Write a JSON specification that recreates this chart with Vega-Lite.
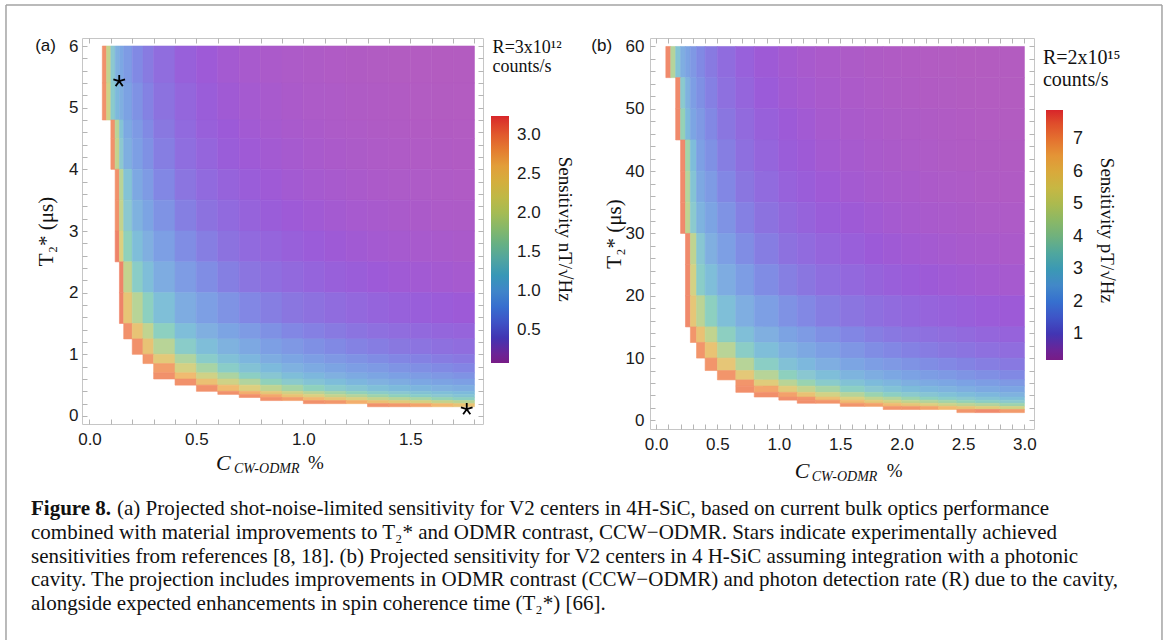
{
"$schema": "https://vega.github.io/schema/vega-lite/v6.json",
"background": "white",
"padding": {"left": 4, "top": 3, "right": 3, "bottom": 0},
"config": {
 "view": {"stroke": "#c6c6c6", "strokeWidth": 1},
 "axis": {"domain": false, "grid": false, "tickColor": "#b5b5b5", "tickWidth": 1, "labelFont": "Liberation Sans", "labelFontSize": 17, "labelColor": "#1a1a1a", "titleFont": "Liberation Serif", "titleFontWeight": "normal", "titleColor": "#111", "titleFontSize": 21},
 "legend": {"gradientStrokeWidth": 0},
 "text": {"font": "Liberation Serif", "color": "#111"}
},
"datasets": {
 "ca": [{"col":"a","x":0.06,"x2":0.08},{"col":"b","x":0.08,"x2":0.1},{"col":"c","x":0.1,"x2":0.12},{"col":"d","x":0.12,"x2":0.14},{"col":"e","x":0.14,"x2":0.16},{"col":"f","x":0.16,"x2":0.2},{"col":"g","x":0.2,"x2":0.25},{"col":"h","x":0.25,"x2":0.3},{"col":"i","x":0.3,"x2":0.4},{"col":"j","x":0.4,"x2":0.5},{"col":"k","x":0.5,"x2":0.6},{"col":"l","x":0.6,"x2":0.7},{"col":"m","x":0.7,"x2":0.8},{"col":"n","x":0.8,"x2":0.9},{"col":"o","x":0.9,"x2":1},{"col":"p","x":1,"x2":1.1},{"col":"q","x":1.1,"x2":1.2},{"col":"r","x":1.2,"x2":1.3},{"col":"s","x":1.3,"x2":1.4},{"col":"t","x":1.4,"x2":1.5},{"col":"u","x":1.5,"x2":1.6},{"col":"v","x":1.6,"x2":1.7},{"col":"w","x":1.7,"x2":1.8}],
 "cb": [{"col":"a","x":0.08,"x2":0.12},{"col":"b","x":0.12,"x2":0.16},{"col":"c","x":0.16,"x2":0.2},{"col":"d","x":0.2,"x2":0.24},{"col":"e","x":0.24,"x2":0.28},{"col":"f","x":0.28,"x2":0.33},{"col":"g","x":0.33,"x2":0.4},{"col":"h","x":0.4,"x2":0.5},{"col":"i","x":0.5,"x2":0.65},{"col":"j","x":0.65,"x2":0.8},{"col":"k","x":0.8,"x2":1},{"col":"l","x":1,"x2":1.15},{"col":"m","x":1.15,"x2":1.3},{"col":"n","x":1.3,"x2":1.5},{"col":"o","x":1.5,"x2":1.7},{"col":"p","x":1.7,"x2":1.85},{"col":"q","x":1.85,"x2":2},{"col":"r","x":2,"x2":2.15},{"col":"s","x":2.15,"x2":2.3},{"col":"t","x":2.3,"x2":2.45},{"col":"u","x":2.45,"x2":2.6},{"col":"v","x":2.6,"x2":2.8},{"col":"w","x":2.8,"x2":3}],
 "ha": [
  {"y":5.4,"y2":6,"a":2.9,"b":2.0,"c":1.4,"d":1.01,"e":0.88,"f":0.73,"g":0.58,"h":0.48,"i":0.38,"j":0.29,"k":0.24,"l":0.2,"m":0.175,"n":0.155,"o":0.139,"p":0.125,"q":0.114,"r":0.105,"s":0.097,"t":0.091,"u":0.085,"v":0.08,"w":0.075},
  {"y":4.8,"y2":5.4,"a":2.9,"b":2.1,"c":1.45,"d":1.13,"e":0.98,"f":0.82,"g":0.65,"h":0.53,"i":0.42,"j":0.33,"k":0.27,"l":0.226,"m":0.196,"n":0.173,"o":0.155,"p":0.14,"q":0.128,"r":0.118,"s":0.109,"t":0.101,"u":0.095,"v":0.089,"w":0.084},
  {"y":4.5,"y2":4.8,"c":2.9,"d":1.9,"e":1.3,"f":0.9,"g":0.72,"h":0.59,"i":0.46,"j":0.36,"k":0.29,"l":0.25,"m":0.215,"n":0.19,"o":0.17,"p":0.154,"q":0.14,"r":0.129,"s":0.119,"t":0.111,"u":0.104,"v":0.098,"w":0.092},
  {"y":4,"y2":4.5,"c":2.9,"d":2.0,"e":1.4,"f":0.98,"g":0.78,"h":0.64,"i":0.5,"j":0.39,"k":0.32,"l":0.27,"m":0.235,"n":0.21,"o":0.186,"p":0.168,"q":0.153,"r":0.141,"s":0.131,"t":0.122,"u":0.114,"v":0.107,"w":0.101},
  {"y":3.5,"y2":4,"d":2.9,"e":1.9,"f":1.3,"g":0.89,"h":0.73,"i":0.57,"j":0.44,"k":0.36,"l":0.31,"m":0.27,"n":0.235,"o":0.21,"p":0.19,"q":0.174,"r":0.16,"s":0.148,"t":0.138,"u":0.129,"v":0.121,"w":0.114},
  {"y":3,"y2":3.5,"d":2.9,"e":2.0,"f":1.4,"g":1.03,"h":0.84,"i":0.66,"j":0.51,"k":0.42,"l":0.36,"m":0.31,"n":0.27,"o":0.24,"p":0.22,"q":0.201,"r":0.185,"s":0.171,"t":0.159,"u":0.149,"v":0.14,"w":0.132},
  {"y":2.5,"y2":3,"d":3.0,"e":2.2,"f":1.6,"g":1.21,"h":0.99,"i":0.78,"j":0.61,"k":0.5,"l":0.42,"m":0.36,"n":0.32,"o":0.29,"p":0.26,"q":0.237,"r":0.218,"s":0.202,"t":0.188,"u":0.176,"v":0.165,"w":0.156},
  {"y":2,"y2":2.5,"e":3.0,"f":2.0,"g":1.5,"h":1.21,"i":0.95,"j":0.74,"k":0.61,"l":0.51,"m":0.44,"n":0.39,"o":0.35,"p":0.317,"q":0.29,"r":0.267,"s":0.247,"t":0.23,"u":0.215,"v":0.202,"w":0.19},
  {"y":1.5,"y2":2,"e":3.0,"f":2.4,"g":1.9,"h":1.56,"i":1.22,"j":0.95,"k":0.78,"l":0.66,"m":0.57,"n":0.5,"o":0.45,"p":0.408,"q":0.373,"r":0.343,"s":0.317,"t":0.296,"u":0.277,"v":0.26,"w":0.245},
  {"y":1.25,"y2":1.5,"f":2.9,"g":2.42,"h":1.98,"i":1.56,"j":1.21,"k":0.99,"l":0.84,"m":0.73,"n":0.64,"o":0.57,"p":0.52,"q":0.474,"r":0.436,"s":0.404,"t":0.376,"u":0.352,"v":0.331,"w":0.312},
  {"y":1,"y2":1.25,"g":2.9,"h":2.42,"i":1.9,"j":1.48,"k":1.21,"l":1.03,"m":0.89,"n":0.78,"o":0.7,"p":0.635,"q":0.58,"r":0.533,"s":0.494,"t":0.46,"u":0.43,"v":0.404,"w":0.381},
  {"y":0.85,"y2":1,"h":2.85,"i":2.32,"j":1.8,"k":1.47,"l":1.25,"m":1.08,"n":0.95,"o":0.85,"p":0.772,"q":0.705,"r":0.649,"s":0.601,"t":0.559,"u":0.523,"v":0.491,"w":0.463},
  {"y":0.7,"y2":0.85,"i":2.8,"j":2.15,"k":1.76,"l":1.49,"m":1.29,"n":1.14,"o":1.02,"p":0.922,"q":0.841,"r":0.774,"s":0.717,"t":0.667,"u":0.624,"v":0.586,"w":0.553},
  {"y":0.6,"y2":0.7,"i":2.9,"j":2.56,"k":2.1,"l":1.78,"m":1.54,"n":1.36,"o":1.21,"p":1.099,"q":1.003,"r":0.923,"s":0.855,"t":0.796,"u":0.744,"v":0.699,"w":0.659},
  {"y":0.5,"y2":0.6,"j":2.9,"k":2.48,"l":2.1,"m":1.82,"n":1.6,"o":1.44,"p":1.299,"q":1.186,"r":1.091,"s":1.01,"t":0.94,"u":0.88,"v":0.826,"w":0.779},
  {"y":0.4,"y2":0.5,"k":2.9,"l":2.56,"m":2.22,"n":1.96,"o":1.75,"p":1.587,"q":1.449,"r":1.333,"s":1.235,"t":1.149,"u":1.075,"v":1.01,"w":0.952},
  {"y":0.35,"y2":0.4,"l":2.9,"m":2.67,"n":2.35,"o":2.11,"p":1.905,"q":1.739,"r":1.6,"s":1.481,"t":1.379,"u":1.29,"v":1.212,"w":1.143},
  {"y":0.3,"y2":0.35,"m":2.9,"n":2.72,"o":2.43,"p":2.198,"q":2.007,"r":1.846,"s":1.709,"t":1.592,"u":1.489,"v":1.399,"w":1.319},
  {"y":0.25,"y2":0.3,"n":2.9,"o":2.8,"p":2.597,"q":2.372,"r":2.182,"s":2.02,"t":1.881,"u":1.76,"v":1.653,"w":1.558},
  {"y":0.2,"y2":0.25,"p":2.9,"q":2.85,"r":2.667,"s":2.469,"t":2.299,"u":2.151,"v":2.02,"w":1.905},
  {"y":0.15,"y2":0.2,"s":2.9,"t":2.85,"u":2.76,"v":2.6,"w":2.45}
 ],
 "hb": [
  {"y":55,"y2":60,"a":7.2,"b":4.5,"c":3.2,"d":2.37,"e":2.01,"f":1.71,"g":1.43,"h":1.16,"i":0.91,"j":0.72,"k":0.58,"l":0.49,"m":0.43,"n":0.37,"o":0.33,"p":0.294,"q":0.271,"r":0.251,"s":0.234,"t":0.22,"u":0.207,"v":0.193,"w":0.18},
  {"y":50,"y2":55,"c":7.2,"d":3.5,"e":2.5,"f":1.87,"g":1.56,"h":1.27,"i":0.99,"j":0.79,"k":0.63,"l":0.53,"m":0.47,"n":0.41,"o":0.36,"p":0.322,"q":0.297,"r":0.275,"s":0.257,"t":0.241,"u":0.226,"v":0.212,"w":0.197},
  {"y":45,"y2":50,"c":7.2,"d":4.0,"e":2.8,"f":2.07,"g":1.73,"h":1.4,"i":1.1,"j":0.87,"k":0.7,"l":0.59,"m":0.52,"n":0.45,"o":0.39,"p":0.356,"q":0.328,"r":0.304,"s":0.284,"t":0.266,"u":0.25,"v":0.234,"w":0.218},
  {"y":40,"y2":45,"d":7.2,"e":4.2,"f":2.9,"g":1.93,"h":1.57,"i":1.23,"j":0.97,"k":0.78,"l":0.66,"m":0.58,"n":0.5,"o":0.44,"p":0.398,"q":0.367,"r":0.34,"s":0.317,"t":0.297,"u":0.28,"v":0.261,"w":0.243},
  {"y":35,"y2":40,"d":7.2,"e":4.5,"f":3.2,"g":2.19,"h":1.78,"i":1.39,"j":1.1,"k":0.89,"l":0.74,"m":0.65,"n":0.57,"o":0.5,"p":0.451,"q":0.416,"r":0.386,"s":0.36,"t":0.337,"u":0.317,"v":0.296,"w":0.276},
  {"y":30,"y2":35,"d":7.2,"e":4.8,"f":3.5,"g":2.53,"h":2.05,"i":1.61,"j":1.27,"k":1.03,"l":0.86,"m":0.75,"n":0.66,"o":0.58,"p":0.52,"q":0.48,"r":0.445,"s":0.415,"t":0.389,"u":0.366,"v":0.342,"w":0.318},
  {"y":25,"y2":30,"e":7.2,"f":4.8,"g":3.3,"h":2.42,"i":1.9,"j":1.5,"k":1.21,"l":1.01,"m":0.89,"n":0.78,"o":0.68,"p":0.615,"q":0.567,"r":0.526,"s":0.49,"t":0.459,"u":0.432,"v":0.404,"w":0.376},
  {"y":20,"y2":25,"e":7.2,"f":5.2,"g":3.65,"h":2.96,"i":2.32,"j":1.84,"k":1.48,"l":1.24,"m":1.09,"n":0.95,"o":0.83,"p":0.751,"q":0.693,"r":0.643,"s":0.599,"t":0.561,"u":0.528,"v":0.494,"w":0.46},
  {"y":15,"y2":20,"e":7.2,"f":5.8,"g":4.7,"h":3.81,"i":2.98,"j":2.36,"k":1.9,"l":1.59,"m":1.4,"n":1.22,"o":1.07,"p":0.966,"q":0.891,"r":0.826,"s":0.77,"t":0.722,"u":0.679,"v":0.635,"w":0.591},
  {"y":12.5,"y2":15,"f":7.0,"g":5.98,"h":4.85,"i":3.79,"j":3.01,"k":2.42,"l":2.03,"m":1.78,"n":1.56,"o":1.36,"p":1.229,"q":1.133,"r":1.051,"s":0.981,"t":0.919,"u":0.864,"v":0.808,"w":0.752},
  {"y":10,"y2":12.5,"g":7.0,"h":5.93,"i":4.64,"j":3.68,"k":2.96,"l":2.48,"m":2.18,"n":1.9,"o":1.67,"p":1.502,"q":1.385,"r":1.285,"s":1.199,"t":1.123,"u":1.056,"v":0.988,"w":0.92},
  {"y":8,"y2":10,"h":7.0,"i":5.8,"j":4.6,"k":3.7,"l":3.1,"m":2.72,"n":2.38,"o":2.08,"p":1.878,"q":1.732,"r":1.606,"s":1.498,"t":1.404,"u":1.32,"v":1.235,"w":1.149},
  {"y":6.5,"y2":8,"i":7.0,"j":5.71,"k":4.6,"l":3.85,"m":3.38,"n":2.96,"o":2.59,"p":2.331,"q":2.15,"r":1.994,"s":1.86,"t":1.742,"u":1.639,"v":1.533,"w":1.427},
  {"y":5.5,"y2":6.5,"j":7.0,"k":5.56,"l":4.65,"m":4.08,"n":3.57,"o":3.13,"p":2.817,"q":2.597,"r":2.41,"s":2.247,"t":2.105,"u":1.98,"v":1.852,"w":1.724},
  {"y":4.5,"y2":5.5,"j":7.1,"k":6.67,"l":5.58,"m":4.9,"n":4.29,"o":3.75,"p":3.38,"q":3.117,"r":2.892,"s":2.697,"t":2.526,"u":2.376,"v":2.222,"w":2.069},
  {"y":3.75,"y2":4.5,"k":7.1,"l":6.77,"m":5.94,"n":5.19,"o":4.55,"p":4.097,"q":3.778,"r":3.505,"s":3.269,"t":3.062,"u":2.88,"v":2.694,"w":2.508},
  {"y":3.25,"y2":3.75,"l":7.1,"m":7.0,"n":6.12,"o":5.36,"p":4.829,"q":4.453,"r":4.131,"s":3.852,"t":3.609,"u":3.395,"v":3.175,"w":2.956},
  {"y":2.75,"y2":3.25,"m":7.1,"n":7.0,"o":6.25,"p":5.634,"q":5.195,"r":4.819,"s":4.494,"t":4.211,"u":3.96,"v":3.704,"w":3.448},
  {"y":2.25,"y2":2.75,"o":7.0,"p":6.761,"q":6.234,"r":5.783,"s":5.393,"t":5.053,"u":4.752,"v":4.444,"w":4.138},
  {"y":1.75,"y2":2.25,"q":7.0,"r":7.0,"s":6.74,"t":6.32,"u":5.94,"v":5.56,"w":5.17},
  {"y":1.25,"y2":1.75,"u":7.0,"v":7.2,"w":6.9}
 ]
},
"hconcat": [
 {
  "width": 401, "height": 386,
  "resolve": {"axis": {"x": "independent", "y": "independent"}},
  "layer": [
   {
    "data": {"name": "ha"},
    "transform": [
     {"fold": ["a","b","c","d","e","f","g","h","i","j","k","l","m","n","o","p","q","r","s","t","u","v","w"], "as": ["col","val"]},
     {"filter": "isValid(datum.val)"},
     {"lookup": "col", "from": {"data": {"name": "ca"}, "key": "col", "fields": ["x","x2"]}}
    ],
    "mark": {"type": "rect", "strokeWidth": 0.6},
    "encoding": {
     "x": {"field": "x", "type": "quantitative", "scale": {"domain": [-0.035, 1.84], "nice": false, "zero": false},
      "axis": {"orient": "bottom", "values": [0,0.1,0.2,0.3,0.4,0.5,0.6,0.7,0.8,0.9,1,1.1,1.2,1.3,1.4,1.5,1.6,1.7,1.8], "labelExpr": "indexof([0,0.5,1,1.5], datum.value) >= 0 ? format(datum.value, '.1f') : ''", "tickSize": -5, "labelPadding": 12, "title": null, "labelOverlap": false, "labelFlush": false}},
     "x2": {"field": "x2"},
     "y": {"field": "y", "type": "quantitative", "scale": {"domain": [-0.13, 6.13], "nice": false, "zero": false},
      "axis": {"orient": "left", "values": [0,0.2,0.4,0.6,0.8,1,1.2,1.4,1.6,1.8,2,2.2,2.4,2.6,2.8,3,3.2,3.4,3.6,3.8,4,4.2,4.4,4.6,4.8,5,5.2,5.4,5.6,5.8,6], "labelExpr": "indexof([0,1,2,3,4,5,6], datum.value) >= 0 ? format(datum.value, 'd') : ''", "tickSize": -5, "labelPadding": 9, "title": "T₂* (μs)", "titlePadding": 12, "labelOverlap": false, "labelFlush": false}},
     "y2": {"field": "y2"},
     "fill": {"field": "val", "type": "quantitative", "legend": null, "scale": {"domain": [0.08,0.25,0.45,0.7,1.0,1.4,1.8,2.2,2.6,2.95,3.24], "range": ["#b35cc0","#9c5ad8","#8a76e0","#7f98e4","#80b0e0","#8cc8d0","#b0d4a0","#dcd080","#f2b870","#f08a6c","#e6605e"], "clamp": true}},
     "stroke": {"field": "val", "type": "quantitative", "legend": null, "scale": {"domain": [0.08,0.25,0.45,0.7,1.0,1.4,1.8,2.2,2.6,2.95,3.24], "range": ["#b35cc0","#9c5ad8","#8a76e0","#7f98e4","#80b0e0","#8cc8d0","#b0d4a0","#dcd080","#f2b870","#f08a6c","#e6605e"], "clamp": true}}
    }
   },
   {
    "data": {"values": [{"v": 1}]},
    "mark": {"type": "point", "size": 0, "opacity": 1},
    "encoding": {
     "color": {"field": "v", "type": "quantitative",
      "scale": {"domain": [0.08,0.396,0.712,1.028,1.344,1.66,1.976,2.292,2.608,2.924,3.24], "range": ["#781c86","#4233b2","#3e62cf","#4388c8","#52a0a6","#74b27a","#a2bb55","#ccb642","#e39d3a","#e4672f","#d8252a"]},
      "legend": {"orient": "none", "legendX": 409, "legendY": 78, "direction": "vertical", "title": null, "gradientLength": 247, "gradientThickness": 18, "values": [0.5,1,1.5,2,2.5,3], "format": ".1f", "labelFont": "Liberation Sans", "labelFontSize": 17, "labelColor": "#1a1a1a", "labelOffset": 8, "labelOverlap": false, "padding": 0}}
    }
   },
   {
    "data": {"values": [{"c": 0.139, "t": 5.43}, {"c": 1.764, "t": 0.11}]},
    "mark": {"type": "point", "shape": "M0,0L0,-1M0,0L0.951,-0.309M0,0L0.588,0.809M0,0L-0.588,0.809M0,0L-0.951,-0.309", "size": 150, "filled": false, "stroke": "#000", "strokeWidth": 1.8, "opacity": 1},
    "encoding": {
     "x": {"field": "c", "type": "quantitative", "axis": null},
     "y": {"field": "t", "type": "quantitative", "axis": null}
    }
   },
   {
    "data": {"values": [{}]},
    "mark": {"type": "text", "text": ["R=3x10¹²", "counts/s"], "align": "left", "baseline": "top", "fontSize": 18, "lineHeight": 19},
    "encoding": {
     "x": {"datum": 1.885, "type": "quantitative", "axis": {"orient": "top", "values": [0,0.1,0.2,0.3,0.4,0.5,0.6,0.7,0.8,0.9,1,1.1,1.2,1.3,1.4,1.5,1.6,1.7,1.8], "labels": false, "tickSize": -5, "title": null}},
     "y": {"datum": 6.11, "type": "quantitative", "axis": {"orient": "right", "values": [0,0.2,0.4,0.6,0.8,1,1.2,1.4,1.6,1.8,2,2.2,2.4,2.6,2.8,3,3.2,3.4,3.6,3.8,4,4.2,4.4,4.6,4.8,5,5.2,5.4,5.6,5.8,6], "labels": false, "tickSize": -5, "title": null}}
    }
   },
   {
    "data": {"values": [{}]},
    "mark": {"type": "text", "text": "Sensitivity nT/√Hz", "angle": 90, "align": "center", "baseline": "middle", "fontSize": 19},
    "encoding": {"x": {"datum": 2.222, "type": "quantitative", "axis": null}, "y": {"datum": 3.03, "type": "quantitative", "axis": null}}
   },
   {
    "data": {"values": [{}]},
    "mark": {"type": "text", "text": "(a)", "align": "right", "baseline": "middle", "font": "Liberation Sans", "fontSize": 17},
    "encoding": {"x": {"datum": -0.157, "type": "quantitative", "axis": null}, "y": {"datum": 6, "type": "quantitative", "axis": null}}
   },
   {
    "data": {"values": [{}]},
    "mark": {"type": "text", "text": "C", "align": "left", "baseline": "middle", "fontSize": 22, "fontStyle": "italic"},
    "encoding": {"x": {"datum": 0.591, "type": "quantitative", "axis": null}, "y": {"datum": -0.76, "type": "quantitative", "axis": null}}
   },
   {
    "data": {"values": [{}]},
    "mark": {"type": "text", "text": "CW-ODMR", "align": "left", "baseline": "middle", "fontSize": 14, "fontStyle": "italic", "dx": 18, "dy": 6},
    "encoding": {"x": {"datum": 0.591, "type": "quantitative", "axis": null}, "y": {"datum": -0.76, "type": "quantitative", "axis": null}}
   },
   {
    "data": {"values": [{}]},
    "mark": {"type": "text", "text": "%", "align": "left", "baseline": "middle", "fontSize": 19, "dx": 92},
    "encoding": {"x": {"datum": 0.591, "type": "quantitative", "axis": null}, "y": {"datum": -0.76, "type": "quantitative", "axis": null}}
   },
   {
    "data": {"values": [{}]},
    "mark": {"type": "rule", "color": "#a3a3a3", "strokeWidth": 1.5},
    "encoding": {"x": {"datum": -0.3904, "type": "quantitative", "axis": null}, "y": {"datum": 6.665, "type": "quantitative", "axis": null}, "y2": {"datum": -3.633}}
   },
   {
    "data": {"values": [{}]},
    "mark": {"type": "rule", "color": "#a3a3a3", "strokeWidth": 1.5},
    "encoding": {"x": {"datum": 5.0148, "type": "quantitative", "axis": null}, "y": {"datum": 6.665, "type": "quantitative", "axis": null}, "y2": {"datum": -3.633}}
   },
   {
    "data": {"values": [{}]},
    "mark": {"type": "rule", "color": "#a3a3a3", "strokeWidth": 1.5},
    "encoding": {"x": {"datum": -0.3904, "type": "quantitative", "axis": null}, "x2": {"datum": 5.0148}, "y": {"datum": 6.665, "type": "quantitative", "axis": null}}
   },
   {
    "data": {"values": [{"line": 0, "text": "Figure 8."}]},
    "mark": {"type": "text", "align": "left", "baseline": "middle", "fontSize": 21, "fontWeight": "bold"},
    "encoding": {"x": {"datum": -0.2735, "type": "quantitative", "axis": null}, "y": {"datum": -1.509, "type": "quantitative", "axis": null}, "text": {"field": "text"}}
   },
   {
    "data": {"values": [{"line": 0, "text": "(a) Projected shot-noise-limited sensitivity for V2 centers in 4H-SiC, based on current bulk optics performance"}]},
    "mark": {"type": "text", "align": "left", "baseline": "middle", "fontSize": 21, "dx": 86},
    "encoding": {"x": {"datum": -0.2735, "type": "quantitative", "axis": null}, "y": {"datum": -1.509, "type": "quantitative", "axis": null}, "text": {"field": "text"}}
   },
   {
    "data": {"values": [
     {"line": 1, "text": "combined with material improvements to T₂* and ODMR contrast, CCW−ODMR. Stars indicate experimentally achieved"},
     {"line": 2, "text": "sensitivities from references [8, 18]. (b) Projected sensitivity for V2 centers in 4 H-SiC assuming integration with a photonic"},
     {"line": 3, "text": "cavity. The projection includes improvements in ODMR contrast (CCW−ODMR) and photon detection rate (R) due to the cavity,"},
     {"line": 4, "text": "alongside expected enhancements in spin coherence time (T₂*) [66]."}
    ]},
    "mark": {"type": "text", "align": "left", "baseline": "middle", "fontSize": 21},
    "encoding": {
     "x": {"datum": -0.2735, "type": "quantitative", "axis": null},
     "y": {"datum": -1.509, "type": "quantitative", "axis": null},
     "yOffset": {"field": "line", "type": "quantitative", "scale": {"domain": [0, 4], "range": [0, 95]}},
     "text": {"field": "text"}
    }
   }
  ]
 },
 {
  "width": 384, "height": 391,
  "resolve": {"axis": {"x": "independent", "y": "independent"}},
  "layer": [
   {
    "data": {"name": "hb"},
    "transform": [
     {"fold": ["a","b","c","d","e","f","g","h","i","j","k","l","m","n","o","p","q","r","s","t","u","v","w"], "as": ["col","val"]},
     {"filter": "isValid(datum.val)"},
     {"lookup": "col", "from": {"data": {"name": "cb"}, "key": "col", "fields": ["x","x2"]}}
    ],
    "mark": {"type": "rect", "strokeWidth": 0.6},
    "encoding": {
     "x": {"field": "x", "type": "quantitative", "scale": {"domain": [-0.049, 3.078], "nice": false, "zero": false},
      "axis": {"orient": "bottom", "values": [0,0.1,0.2,0.3,0.4,0.5,0.6,0.7,0.8,0.9,1,1.1,1.2,1.3,1.4,1.5,1.6,1.7,1.8,1.9,2,2.1,2.2,2.3,2.4,2.5,2.6,2.7,2.8,2.9,3], "labelExpr": "indexof([0,0.5,1,1.5,2,2.5,3], datum.value) >= 0 ? format(datum.value, '.1f') : ''", "tickSize": -5, "labelPadding": 12, "title": null, "labelOverlap": false, "labelFlush": false}},
     "x2": {"field": "x2"},
     "y": {"field": "y", "type": "quantitative", "scale": {"domain": [-1.38, 61.36], "nice": false, "zero": false},
      "axis": {"orient": "left", "values": [0,2,4,6,8,10,12,14,16,18,20,22,24,26,28,30,32,34,36,38,40,42,44,46,48,50,52,54,56,58,60], "labelExpr": "datum.value % 10 == 0 ? format(datum.value, 'd') : ''", "tickSize": -5, "labelPadding": 11, "title": "T₂* (μs)", "titlePadding": 1, "labelOverlap": false, "labelFlush": false}},
     "y2": {"field": "y2"},
     "fill": {"field": "val", "type": "quantitative", "legend": null, "scale": {"domain": [0.2,0.61,1.1,1.71,2.44,3.42,4.39,5.37,6.34,7.2,7.9], "range": ["#b35cc0","#9c5ad8","#8a76e0","#7f98e4","#80b0e0","#8cc8d0","#b0d4a0","#dcd080","#f2b870","#f08a6c","#e6605e"], "clamp": true}},
     "stroke": {"field": "val", "type": "quantitative", "legend": null, "scale": {"domain": [0.2,0.61,1.1,1.71,2.44,3.42,4.39,5.37,6.34,7.2,7.9], "range": ["#b35cc0","#9c5ad8","#8a76e0","#7f98e4","#80b0e0","#8cc8d0","#b0d4a0","#dcd080","#f2b870","#f08a6c","#e6605e"], "clamp": true}}
    }
   },
   {
    "data": {"values": [{"v": 1}]},
    "mark": {"type": "point", "size": 0, "opacity": 1},
    "encoding": {
     "color": {"field": "v", "type": "quantitative",
      "scale": {"domain": [0.2,0.97,1.74,2.51,3.28,4.05,4.82,5.59,6.36,7.13,7.9], "range": ["#781c86","#4233b2","#3e62cf","#4388c8","#52a0a6","#74b27a","#a2bb55","#ccb642","#e39d3a","#e4672f","#d8252a"]},
      "legend": {"orient": "none", "legendX": 396, "legendY": 72, "direction": "vertical", "title": null, "gradientLength": 250, "gradientThickness": 17, "values": [1,2,3,4,5,6,7], "format": "d", "labelFont": "Liberation Sans", "labelFontSize": 18, "labelColor": "#1a1a1a", "labelOffset": 10, "labelOverlap": false, "padding": 0}}
    }
   },
   {
    "data": {"values": [{}]},
    "mark": {"type": "text", "text": ["R=2x10¹⁵", "counts/s"], "align": "left", "baseline": "top", "fontSize": 20, "lineHeight": 22},
    "encoding": {
     "x": {"datum": 3.151, "type": "quantitative", "axis": {"orient": "top", "values": [0,0.1,0.2,0.3,0.4,0.5,0.6,0.7,0.8,0.9,1,1.1,1.2,1.3,1.4,1.5,1.6,1.7,1.8,1.9,2,2.1,2.2,2.3,2.4,2.5,2.6,2.7,2.8,2.9,3], "labels": false, "tickSize": -5, "title": null}},
     "y": {"datum": 59.8, "type": "quantitative", "axis": {"orient": "right", "values": [0,2,4,6,8,10,12,14,16,18,20,22,24,26,28,30,32,34,36,38,40,42,44,46,48,50,52,54,56,58,60], "labels": false, "tickSize": -5, "title": null}}
    }
   },
   {
    "data": {"values": [{}]},
    "mark": {"type": "text", "text": "Sensitivity pT/√Hz", "angle": 90, "align": "center", "baseline": "middle", "fontSize": 19},
    "encoding": {"x": {"datum": 3.673, "type": "quantitative", "axis": null}, "y": {"datum": 30.5, "type": "quantitative", "axis": null}}
   },
   {
    "data": {"values": [{}]},
    "mark": {"type": "text", "text": "(b)", "align": "right", "baseline": "middle", "font": "Liberation Sans", "fontSize": 17},
    "encoding": {"x": {"datum": -0.358, "type": "quantitative", "axis": null}, "y": {"datum": 60, "type": "quantitative", "axis": null}}
   },
   {
    "data": {"values": [{}]},
    "mark": {"type": "text", "text": "C", "align": "left", "baseline": "middle", "fontSize": 22, "fontStyle": "italic"},
    "encoding": {"x": {"datum": 1.13, "type": "quantitative", "axis": null}, "y": {"datum": -8.1, "type": "quantitative", "axis": null}}
   },
   {
    "data": {"values": [{}]},
    "mark": {"type": "text", "text": "CW-ODMR", "align": "left", "baseline": "middle", "fontSize": 14, "fontStyle": "italic", "dx": 17, "dy": 6},
    "encoding": {"x": {"datum": 1.13, "type": "quantitative", "axis": null}, "y": {"datum": -8.1, "type": "quantitative", "axis": null}}
   },
   {
    "data": {"values": [{}]},
    "mark": {"type": "text", "text": "%", "align": "left", "baseline": "middle", "fontSize": 19, "dx": 92},
    "encoding": {"x": {"datum": 1.13, "type": "quantitative", "axis": null}, "y": {"datum": -8.1, "type": "quantitative", "axis": null}}
   }
  ]
 }
],
"spacing": 167,
"bounds": "flush",
"resolve": {"scale": {"color": "independent", "fill": "independent", "stroke": "independent"}, "legend": {"color": "independent"}}
}
